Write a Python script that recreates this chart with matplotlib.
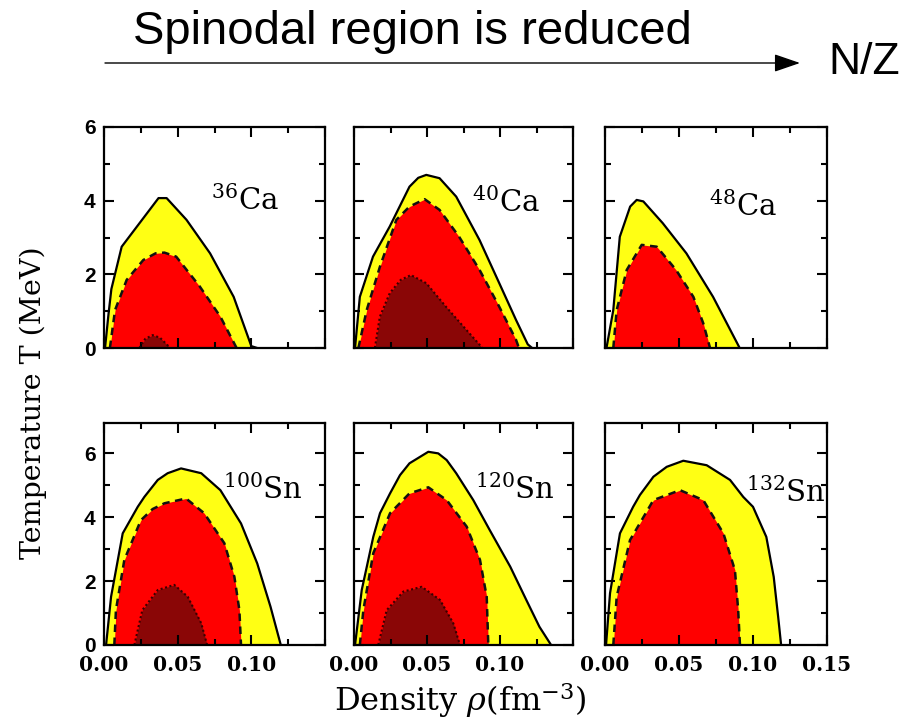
import matplotlib
matplotlib.use('Agg')
import matplotlib.pyplot as plt
from matplotlib.ticker import MultipleLocator

plt.rcParams['mathtext.fontset'] = 'dejavuserif'

# boundaries: (density rho [fm^-3], temperature T [MeV])
ca36_yellow = [(0.0007, 0.0), (0.003, 0.9), (0.005, 1.6), (0.012, 2.75), (0.037, 4.07), (0.0425, 4.07),
               (0.056, 3.48), (0.072, 2.57), (0.088, 1.39), (0.100, 0.05), (0.104, 0.0)]
ca36_red = [(0.004, 0.0), (0.0075, 1.03), (0.0154, 1.85), (0.0267, 2.39), (0.035, 2.57), (0.041, 2.59),
            (0.049, 2.48), (0.065, 1.67), (0.079, 0.85), (0.090, 0.0)]
ca36_dark = [(0.024, 0.0), (0.028, 0.25), (0.033, 0.35), (0.038, 0.28), (0.045, 0.0)]

ca40_yellow = [(0.0007, 0.0), (0.004, 1.39), (0.013, 2.48), (0.0245, 3.3), (0.038, 4.38), (0.044, 4.62),
               (0.0495, 4.70), (0.0586, 4.61), (0.070, 4.11), (0.086, 2.93), (0.0995, 1.76), (0.111, 0.76),
               (0.119, 0.1), (0.122, 0.0)]
ca40_red = [(0.003, 0.0), (0.0087, 1.03), (0.0177, 2.2), (0.029, 3.48), (0.038, 3.84), (0.0484, 4.04),
            (0.0586, 3.75), (0.072, 3.02), (0.086, 2.12), (0.0995, 1.12), (0.111, 0.22), (0.113, 0.0)]
ca40_dark = [(0.0143, 0.0), (0.0177, 0.85), (0.0245, 1.49), (0.032, 1.85), (0.039, 1.98), (0.0495, 1.76),
             (0.063, 1.12), (0.077, 0.49), (0.088, 0.0)]

ca48_yellow = [(0.001, 0.0), (0.0056, 1.03), (0.010, 3.02), (0.017, 3.84), (0.0214, 4.02), (0.0259, 3.98),
               (0.039, 3.39), (0.055, 2.57), (0.073, 1.39), (0.091, 0.0)]
ca48_red = [(0.0056, 0.0), (0.0079, 1.03), (0.0147, 2.12), (0.0248, 2.80), (0.035, 2.75), (0.048, 2.12),
            (0.0597, 1.39), (0.0664, 0.67), (0.071, 0.0)]

sn100_yellow = [(0.0014, 0.0), (0.0048, 1.51), (0.0127, 3.49), (0.0229, 4.32), (0.0274, 4.63), (0.0365, 5.16),
                (0.0432, 5.37), (0.0523, 5.52), (0.066, 5.37), (0.079, 4.84), (0.093, 3.80), (0.104, 2.55),
                (0.113, 1.2), (0.120, 0.0)]
sn100_red = [(0.007, 0.0), (0.0081, 1.09), (0.0138, 2.66), (0.025, 3.9), (0.033, 4.25), (0.041, 4.43),
             (0.0557, 4.58), (0.068, 4.12), (0.0817, 3.18), (0.0885, 2.13), (0.0919, 1.09), (0.093, 0.0)]
sn100_dark = [(0.0206, 0.0), (0.026, 1.09), (0.0365, 1.72), (0.0477, 1.88), (0.0568, 1.51), (0.066, 0.68),
              (0.070, 0.0)]

sn120_yellow = [(0.0007, 0.0), (0.0053, 1.72), (0.0132, 3.38), (0.0178, 4.12), (0.0247, 4.74), (0.0315, 5.31),
                (0.038, 5.68), (0.0509, 6.04), (0.0577, 5.99), (0.0635, 5.78), (0.070, 5.37), (0.0817, 4.53),
                (0.093, 3.59), (0.107, 2.45), (0.118, 1.41), (0.127, 0.57), (0.135, 0.0)]
sn120_red = [(0.004, 0.0), (0.0064, 1.09), (0.0132, 2.87), (0.0247, 4.12), (0.038, 4.74), (0.0509, 4.93),
             (0.0635, 4.53), (0.0772, 3.70), (0.0863, 2.66), (0.0909, 1.51), (0.092, 0.0)]
sn120_dark = [(0.0166, 0.0), (0.0224, 1.09), (0.0338, 1.67), (0.0464, 1.82), (0.0589, 1.41), (0.068, 0.68),
              (0.0726, 0.0)]

sn132_yellow = [(0.0007, 0.0), (0.0034, 1.62), (0.0101, 3.49), (0.019, 4.32), (0.0236, 4.69), (0.0327, 5.26),
                (0.0417, 5.57), (0.0529, 5.76), (0.0687, 5.62), (0.0845, 5.16), (0.0934, 4.63), (0.100, 4.32),
                (0.109, 3.38), (0.114, 2.13), (0.117, 0.88), (0.119, 0.0)]
sn132_red = [(0.0056, 0.0), (0.0079, 1.51), (0.0169, 3.28), (0.0327, 4.53), (0.0507, 4.84), (0.0664, 4.53),
             (0.080, 3.49), (0.0878, 2.34), (0.090, 1.09), (0.0912, 0.0)]

nuclei = [r'$^{36}$Ca', r'$^{40}$Ca', r'$^{48}$Ca', r'$^{100}$Sn', r'$^{120}$Sn', r'$^{132}$Sn']
label_pos = [(0.096, 4.0), (0.104, 3.95), (0.093, 3.83), (0.108, 4.84), (0.110, 4.84), (0.122, 4.75)]
regions = [
    (ca36_yellow, ca36_red, ca36_dark),
    (ca40_yellow, ca40_red, ca40_dark),
    (ca48_yellow, ca48_red, None),
    (sn100_yellow, sn100_red, sn100_dark),
    (sn120_yellow, sn120_red, sn120_dark),
    (sn132_yellow, sn132_red, None),
]

YELLOW = '#ffff14'
RED = '#ff0000'
DARK = '#8a0606'

W, H = 921, 725
fig = plt.figure(figsize=(W / 100, H / 100), dpi=100)

# axes boxes in pixels: left/right per column, top/bottom per row
lefts = [(104, 325), (354, 573), (605, 827)]
rows = [(127, 348), (423, 645)]


def draw(ax, pts, color, ls, lc, lw):
    x = [p[0] for p in pts]
    y = [p[1] for p in pts]
    ax.fill_between(x, y, 0, color=color, lw=0)
    ax.plot(x, y, ls=ls, color=lc, lw=lw)


for i in range(6):
    r, c = divmod(i, 3)
    l, rr = lefts[c]
    t, b = rows[r]
    ax = fig.add_axes([l / W, 1 - b / H, (rr - l) / W, (b - t) / H])
    yel, red, dark = regions[i]
    draw(ax, yel, YELLOW, '-', 'black', 1.6)
    draw(ax, red, RED, (0, (3, 2.2)), '#111111', 1.8)
    if dark is not None:
        draw(ax, dark, DARK, (0, (1, 1.2)), '#3a0000', 1.5)
    ax.set_xlim(0, 0.15)
    ax.set_ylim(0, 6 if r == 0 else 6.94)
    ax.xaxis.set_major_locator(MultipleLocator(0.05))
    ax.xaxis.set_minor_locator(MultipleLocator(0.025))
    ax.yaxis.set_major_locator(MultipleLocator(2))
    ax.yaxis.set_minor_locator(MultipleLocator(1))
    ax.tick_params(which='both', direction='in', top=True, right=True, width=1.5)
    ax.tick_params(which='major', length=7)
    ax.tick_params(which='minor', length=4)
    for s in ax.spines.values():
        s.set_linewidth(1.6)
    if r == 0:
        ax.set_xticklabels([])
    else:
        ticks = [0.0, 0.05, 0.10, 0.15] if c == 2 else [0.0, 0.05, 0.10]
        ax.set_xticks(ticks)
        ax.set_xticklabels(['%.2f' % v for v in ticks], family='DejaVu Serif',
                           fontweight='bold', fontsize=14.5)
        ax.tick_params(axis='x', pad=7)
    if c == 0:
        ax.set_yticks([0, 2, 4, 6])
        ax.set_yticklabels(['0', '2', '4', '6'], family='Liberation Sans', fontweight='bold', fontsize=15)
        ax.tick_params(axis='y', pad=6)
    else:
        ax.set_yticklabels([])
    ax.text(label_pos[i][0], label_pos[i][1], nuclei[i], family='DejaVu Serif', fontsize=21,
            ha='center', va='center')

fig.text(33 / W, 1 - 403 / H, 'Temperature T (MeV)', rotation=90, family='DejaVu Serif',
         fontsize=20.5, ha='center', va='center')
fig.text(460 / W, 1 - 700 / H, r'Density $\rho$(fm$^{-3}$)', family='DejaVu Serif',
         fontsize=23, ha='center', va='center')

fig.text(133 / W, 1 - 44 / H, 'Spinodal region is reduced', family='Liberation Sans', fontsize=34,
         ha='left', va='baseline')
fig.text(828 / W, 1 - 62 / H, 'N/Z', family='Liberation Sans', fontsize=32, ha='left', va='center')
plt.annotate('', xy=(800 / W, 1 - 63 / H), xytext=(105 / W, 1 - 63 / H), xycoords='figure fraction',
             arrowprops=dict(arrowstyle='-|>,head_length=1.6,head_width=0.55', lw=1, color='black',
                             shrinkA=0, shrinkB=0))

fig.savefig('out.png', dpi=100)
